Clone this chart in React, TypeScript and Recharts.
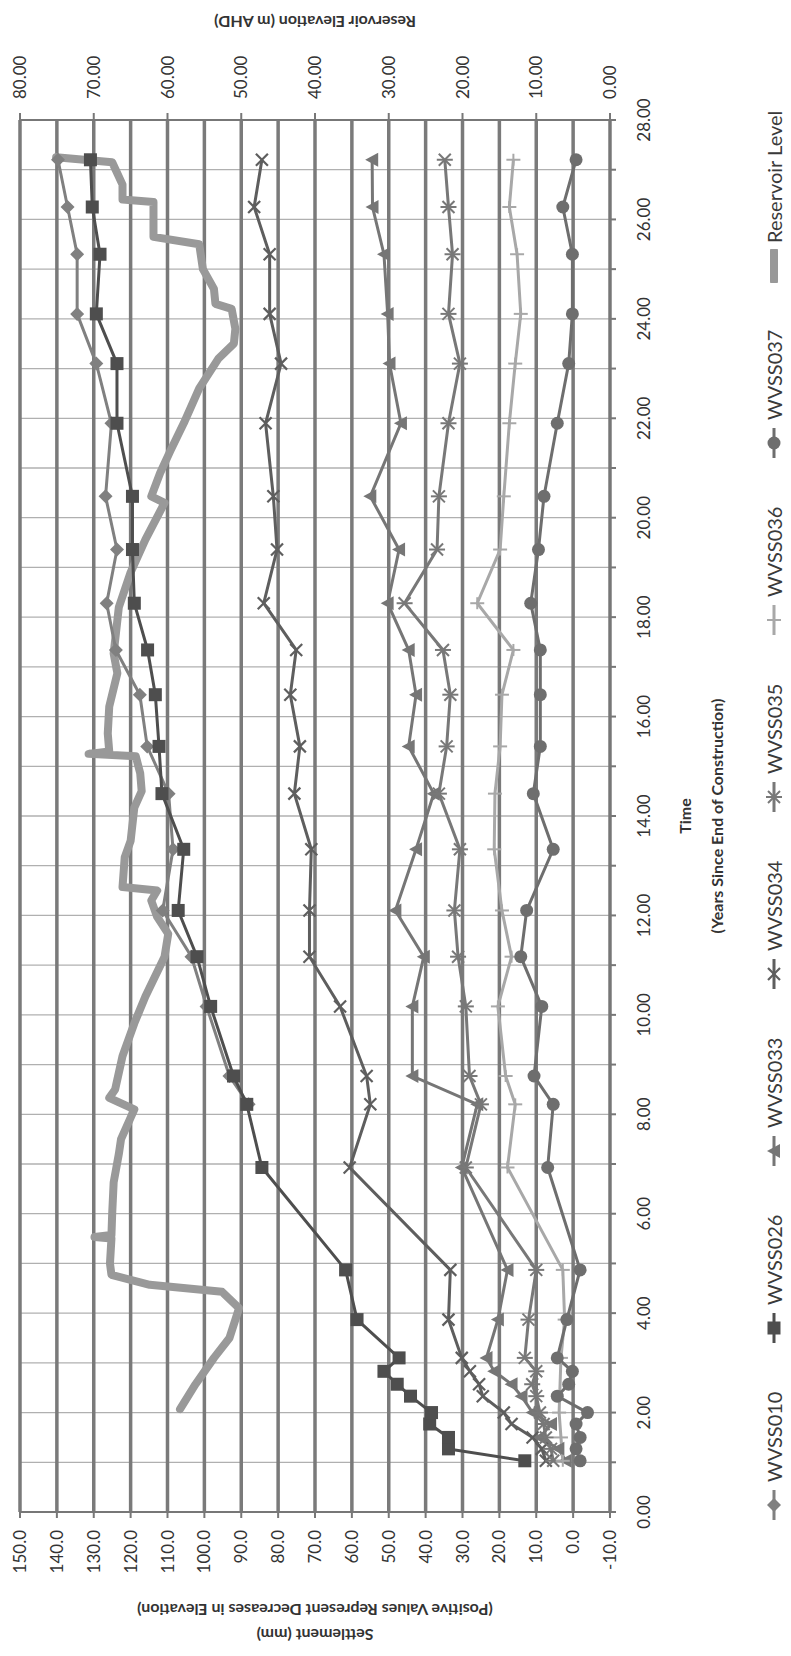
import React from 'react';
import { LineChart, Line, XAxis, YAxis, CartesianGrid } from 'recharts';

// ---------- data ----------
const timeTicks = [0,1,2,3,4,5,6,7,8,9,10,11,12,13,14,15,16,17,18,19,20,21,22,23,24,25,26,27,28];
const settlementTicks = [-10,0,10,20,30,40,50,60,70,80,90,100,110,120,130,140,150];
const reservoirTicks = [0,10,20,30,40,50,60,70,80];

const tEarly = [1.03,1.27,1.5,1.77,2.0,2.33,2.57,2.83,3.1,3.87,4.87];
const tLate = [6.93,8.2,8.77,10.17,11.17,12.1,13.33,14.45,15.4,16.44,17.34,18.28,19.36,20.43,21.9,23.1,24.1,25.3,26.25,27.2];

const t010 = [8.2,8.77,10.17,11.17,12.1,13.33,14.45,15.4,16.44,17.34,18.28,19.36,20.43,21.9,23.1,24.1,25.3,26.25,27.2];
const v010 = [88.0,93.2,99.4,103.5,111.3,108.5,109.7,115.5,117.5,124.0,126.5,123.7,126.8,125.2,129.3,134.5,134.5,137.1,139.7];

const v026 = [13.1,33.8,33.8,38.9,38.4,44.1,47.7,51.3,47.2,58.6,61.7,
  84.4,88.5,92.1,98.3,102.0,107.1,105.6,111.5,112.3,113.3,115.4,119.0,119.5,119.5,123.7,123.7,129.3,128.3,130.4,130.9];
const v033 = [2.0,4.0,9.0,6.0,11.0,14.0,16.7,21.4,23.5,20.4,17.8,
  30.2,26.0,43.6,43.6,40.5,48.2,42.6,37.8,44.6,42.6,44.6,50.3,47.2,55.0,46.7,49.8,50.3,51.3,54.4,54.5];
const v034 = [7.4,8.5,11.0,16.7,18.8,24.5,25.5,28.0,30.2,33.8,33.3,
  60.6,55.0,56.0,63.2,71.5,71.5,71.0,75.6,74.1,76.7,75.1,83.9,80.3,81.3,83.4,79.2,82.3,82.3,86.5,84.4];
const v035 = [5.4,6.0,7.4,8.0,9.0,10.0,11.1,10.0,13.1,12.1,10.0,
  29.1,25.0,28.1,29.1,31.2,32.2,30.7,36.4,34.3,33.3,35.3,45.7,36.9,36.4,33.8,30.7,33.8,32.7,33.8,34.8];
const t036 = [1.03,1.5,2.0,3.1,3.87,4.87,6.93,8.2,8.77,10.17,11.17,12.1,13.33,14.45,15.4,16.44,17.34,18.28,19.36,20.43,21.9,23.1,24.1,25.3,26.25,27.2];
const v036 = [2.8,3.3,3.8,3.3,2.3,2.8,17.8,15.7,18.3,20.4,16.7,19.3,21.4,21.2,19.8,19.3,16.2,26.0,19.8,18.8,17.3,15.7,14.2,15.2,17.3,16.2];
const v037 = [-1.9,-0.8,-1.9,-0.8,-3.9,4.3,1.2,0.2,4.3,1.7,-1.9,
  6.9,5.4,10.6,8.5,14.2,12.6,5.4,10.8,8.9,8.9,8.9,11.5,9.4,7.9,4.3,1.2,0.2,0.2,2.8,-0.8];

const tRes = [2.07,2.57,3.1,3.5,4.1,4.43,4.57,4.77,5.0,5.5,5.53,5.57,6.0,6.63,7.2,7.5,8.1,8.33,8.5,9.17,9.83,10.37,11.17,11.63,11.97,12.3,12.5,12.57,13.17,13.5,14.17,14.5,14.86,15.2,15.25,15.3,15.66,16.2,16.87,17.27,18.2,18.9,19.56,20.3,20.43,20.9,21.35,21.9,22.6,23.2,23.5,23.8,24.2,24.3,24.6,25.0,25.5,25.65,26.35,26.4,26.7,27.15,27.25];
const vRes = [58.3,56.2,53.7,51.6,50.3,52.6,62.4,67.6,67.8,67.6,69.9,67.6,67.5,67.3,66.6,66.3,64.5,67.9,67.1,66.1,64.5,63.0,60.4,59.9,61.4,62.2,61.4,66.1,65.8,65.0,64.5,63.5,63.7,64.3,70.7,67.9,68.1,67.9,66.8,67.3,66.6,65.0,63.0,60.4,62.2,61.0,59.6,57.8,55.7,53.1,51.0,50.8,51.3,53.5,53.7,55.2,55.7,61.9,61.9,66.1,66.1,67.5,75.1];

const tAll = [...tEarly, ...tLate];
const pts = (ts: number[], vs: number[]) => ts.map((t, i) => ({ t, v: vs[i] }));

// ---------- styles ----------
const FONT = "Lato, 'Open Sans', sans-serif";
const W = 1656;
const H = 791;

type Shape = 'diamond' | 'square' | 'triangle' | 'x' | 'star' | 'plus' | 'circle' | 'none';

const SERIES: { name: string; data: { t: number; v: number }[]; color: string; shape: Shape }[] = [
  { name: 'WVSS010', data: pts(t010, v010), color: '#808080', shape: 'diamond' },
  { name: 'WVSS026', data: pts(tAll, v026), color: '#4e4e4e', shape: 'square' },
  { name: 'WVSS033', data: pts(tAll, v033), color: '#767676', shape: 'triangle' },
  { name: 'WVSS034', data: pts(tAll, v034), color: '#5e5e5e', shape: 'x' },
  { name: 'WVSS035', data: pts(tAll, v035), color: '#787878', shape: 'star' },
  { name: 'WVSS036', data: pts(t036, v036), color: '#a8a8a8', shape: 'plus' },
  { name: 'WVSS037', data: pts(tAll, v037), color: '#6e6e6e', shape: 'circle' },
];
const RES_COLOR = '#999999';

function Marker({ shape, cx, cy, color }: { shape: Shape; cx: number; cy: number; color: string }) {
  if (cx == null || cy == null || isNaN(cx) || isNaN(cy)) return null;
  const s = 6.5;
  switch (shape) {
    case 'diamond':
      return <polygon points={`${cx},${cy - 7} ${cx + 7},${cy} ${cx},${cy + 7} ${cx - 7},${cy}`} fill={color} />;
    case 'square':
      return <rect x={cx - s} y={cy - s} width={2 * s} height={2 * s} fill={color} />;
    case 'triangle':
      return <polygon points={`${cx},${cy - 7} ${cx + 7},${cy + 6} ${cx - 7},${cy + 6}`} fill={color} />;
    case 'x':
      return (
        <g stroke={color} strokeWidth={2.2}>
          <line x1={cx - 6} y1={cy - 6} x2={cx + 6} y2={cy + 6} />
          <line x1={cx - 6} y1={cy + 6} x2={cx + 6} y2={cy - 6} />
        </g>
      );
    case 'star':
      return (
        <g stroke={color} strokeWidth={2}>
          <line x1={cx - 6} y1={cy - 6} x2={cx + 6} y2={cy + 6} />
          <line x1={cx - 6} y1={cy + 6} x2={cx + 6} y2={cy - 6} />
          <line x1={cx} y1={cy - 8} x2={cx} y2={cy + 8} />
        </g>
      );
    case 'plus':
      return (
        <g stroke={color} strokeWidth={2}>
          <line x1={cx - 6} y1={cy} x2={cx + 6} y2={cy} />
          <line x1={cx} y1={cy - 7} x2={cx} y2={cy + 7} />
        </g>
      );
    case 'circle':
      return <circle cx={cx} cy={cy} r={6.5} fill={color} />;
    default:
      return null;
  }
}

function LegendRow() {
  const items = [
    ...SERIES.map((s) => ({ name: s.name, color: s.color, shape: s.shape, thick: false })),
    { name: 'Reservoir Level', color: RES_COLOR, shape: 'none' as Shape, thick: true },
  ];
  return (
    <div style={{ position: 'absolute', left: 134, top: 757, height: 34, display: 'flex', flexDirection: 'row', alignItems: 'center', fontFamily: FONT }}>
      {items.map((it) => (
        <div key={it.name} style={{ display: 'flex', alignItems: 'center', width: it.thick ? 200 : 177 }}>
          <svg width={34} height={20} style={{ marginRight: 6 }}>
            <line x1={2} y1={10} x2={32} y2={10} stroke={it.color} strokeWidth={it.thick ? 8 : 3} strokeLinecap={it.thick ? 'round' : 'butt'} />
            <Marker shape={it.shape} cx={17} cy={10} color={it.color} />
          </svg>
          <span style={{ fontSize: 20, color: '#3a3a3a', whiteSpace: 'nowrap' }}>{it.name}</span>
        </div>
      ))}
    </div>
  );
}

const XTitle = (props: any) => {
  const vb = props.viewBox || {};
  const cx = vb.x + vb.width / 2;
  return (
    <g fontFamily={FONT} fontWeight="bold" fontSize={16} fill="#333">
      <text x={cx} y={vb.y + 81} textAnchor="middle">Time</text>
      <text x={cx} y={vb.y + 113} textAnchor="middle">(Years Since End of Construction)</text>
    </g>
  );
};

const LeftTitle = (props: any) => {
  const vb = props.viewBox || {};
  const cy = vb.y + vb.height / 2;
  return (
    <g fontFamily={FONT} fontWeight="bold" fontSize={16} fill="#333">
      <text x={21} y={cy} textAnchor="middle" dominantBaseline="central" transform={`rotate(-90, 21, ${cy})`}>Settlement (mm)</text>
      <text x={46} y={cy} textAnchor="middle" dominantBaseline="central" transform={`rotate(-90, 46, ${cy})`}>(Positive Values Represent Decreases in Elevation)</text>
    </g>
  );
};

const RightTitle = (props: any) => {
  const vb = props.viewBox || {};
  const cy = vb.y + vb.height / 2;
  const x = 1634;
  return (
    <g fontFamily={FONT} fontWeight="bold" fontSize={16} fill="#333">
      <text x={x} y={cy} textAnchor="middle" dominantBaseline="central" transform={`rotate(-90, ${x}, ${cy})`}>Reservoir Elevation  (m AHD)</text>
    </g>
  );
};

const tickStyle = { fontSize: 17, fill: '#333', fontFamily: FONT };

export default function App() {
  return (
    <div style={{ position: 'absolute', left: 0, top: 0, width: 791, height: 1656, overflow: 'hidden', background: '#ffffff' }}>
      <div
        style={{
          position: 'absolute',
          left: 0,
          top: 0,
          width: W,
          height: H,
          transformOrigin: '0 0',
          transform: `translate(0px, ${W}px) rotate(-90deg)`,
        }}
      >
        <LineChart width={W} height={H} margin={{ top: 20, right: 0, bottom: 40, left: 0 }}>
          <CartesianGrid yAxisId="left" horizontal={false} vertical={true} stroke="#b0b0b0" strokeWidth={1.3} />
          <CartesianGrid yAxisId="left" horizontal={true} vertical={false} stroke="#7a7a7a" strokeWidth={3.5} />
          <XAxis
            type="number"
            dataKey="t"
            domain={[0, 28]}
            ticks={timeTicks}
            interval={0}
            allowDataOverflow
            tickFormatter={(v: number) => (v % 2 === 0 ? v.toFixed(2) : '')}
            tick={tickStyle}
            tickSize={6}
            tickMargin={22}
            stroke="#777"
            strokeWidth={2}
            height={141}
            label={<XTitle />}
          />
          <YAxis
            yAxisId="left"
            type="number"
            domain={[-10, 150]}
            ticks={settlementTicks}
            interval={0}
            tickFormatter={(v: number) => v.toFixed(1)}
            tick={tickStyle}
            tickSize={6}
            tickMargin={12}
            stroke="#777"
            strokeWidth={2}
            width={144}
            label={<LeftTitle />}
          />
          <YAxis
            yAxisId="right"
            orientation="right"
            type="number"
            domain={[0, 80]}
            ticks={reservoirTicks}
            interval={0}
            tickFormatter={(v: number) => v.toFixed(2)}
            tick={tickStyle}
            tickSize={7}
            tickMargin={14}
            stroke="#777"
            strokeWidth={2}
            width={120}
            label={<RightTitle />}
          />
          <Line
            yAxisId="right"
            data={pts(tRes, vRes)}
            dataKey="v"
            name="Reservoir Level"
            type="linear"
            stroke={RES_COLOR}
            strokeWidth={8}
            strokeLinejoin="round"
            strokeLinecap="round"
            dot={false}
            activeDot={false}
            isAnimationActive={false}
          />
          {SERIES.map((s) => (
            <Line
              key={s.name}
              yAxisId="left"
              data={s.data}
              dataKey="v"
              name={s.name}
              type="linear"
              stroke={s.color}
              strokeWidth={3}
              dot={(p: any) => <Marker key={`${s.name}-${p.index}`} shape={s.shape} cx={p.cx} cy={p.cy} color={s.color} />}
              activeDot={false}
              isAnimationActive={false}
            />
          ))}
        </LineChart>
        <LegendRow />
      </div>
    </div>
  );
}
